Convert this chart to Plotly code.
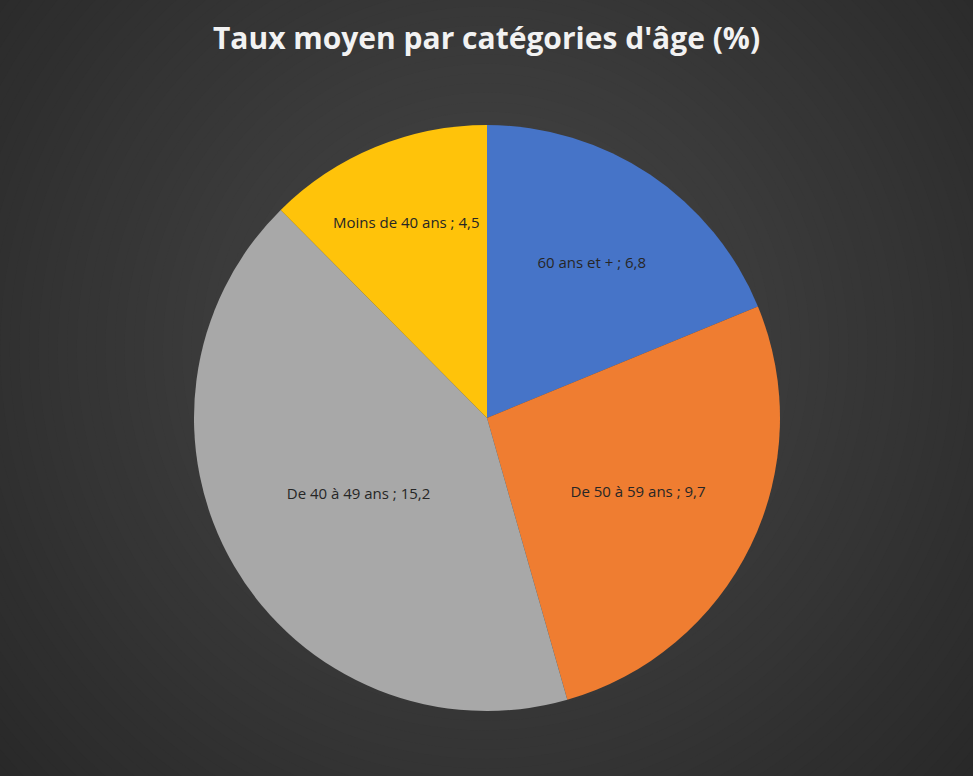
import plotly.graph_objects as go

categories = ["60 ans et +", "De 50 à 59 ans", "De 40 à 49 ans", "Moins de 40 ans"]
values = [6.8, 9.7, 15.2, 4.5]
colors = ["#4674C8", "#EF7D31", "#A8A8A8", "#FFC30A"]
title_text = "Taux moyen par catégories d'âge (%)"

W, H = 973, 776

fig = go.Figure()
fig.add_trace(go.Pie(
    labels=categories,
    values=values,
    sort=False,
    direction="clockwise",
    rotation=0,
    marker=dict(colors=colors, line=dict(color="#4a4a4a", width=0)),
    texttemplate="%{label} ; %{value:.1f}",
    textposition="inside",
    insidetextorientation="horizontal",
    textfont=dict(family="Open Sans", size=15, color="#262626"),
    hoverinfo="label+value",
    showlegend=False,
    domain=dict(x=[194 / W, 780 / W], y=[1 - 711 / H, 1 - 125 / H]),
))

# radial background gradient (dark edges, lighter centre)
shapes = []
steps = 70
cx, cy = 0.5, 0.55
c_out = (40, 40, 40)
c_in = (72, 72, 72)
maxr = 660.0
for i in range(steps):
    t = i / (steps - 1)
    r = maxr * (1 - t) + 8
    col = tuple(int(round(c_out[k] + (c_in[k] - c_out[k]) * t)) for k in range(3))
    shapes.append(dict(
        type="circle", xref="paper", yref="paper", layer="below",
        x0=cx - r / W, x1=cx + r / W, y0=cy - r / H, y1=cy + r / H,
        fillcolor="rgb(%d,%d,%d)" % col, line=dict(width=0),
    ))

fig.update_layout(
    width=W, height=H,
    margin=dict(l=0, r=0, t=0, b=0),
    paper_bgcolor="#282828",
    plot_bgcolor="#282828",
    separators=", ",
    shapes=shapes,
    title=dict(
        text="<b>" + title_text + "</b>",
        x=0.5, xanchor="center", y=1 - 38 / H, yanchor="middle",
        font=dict(family="Open Sans", size=30, color="#F2F2F2"),
    ),
)

fig.write_html(
    "out.html",
    config={"displayModeBar": False},
    post_script="document.body.style.margin='0';document.body.style.overflow='hidden';",
)
